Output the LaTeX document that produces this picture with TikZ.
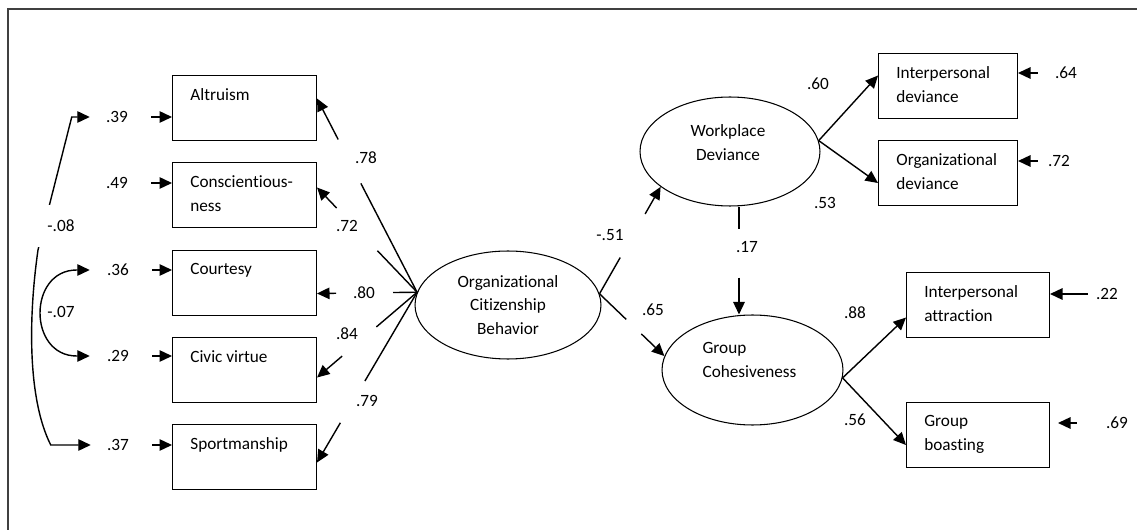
\documentclass[tikz,border=0pt]{standalone}
\usepackage{fontspec}
\setmainfont{Carlito}[Ligatures=NoCommon]
\usetikzlibrary{arrows.meta,shapes.geometric,positioning}

\begin{document}
\begin{tikzpicture}[x=0.02cm, y=-0.02cm,
    font={\fontsize{9.8pt}{13.6pt}\selectfont},
    >={Triangle[length=2.5mm,width=2.3mm]},
    box/.style={draw, line width=0.6pt, anchor=north west, minimum width=2.88cm, minimum height=1.3cm, inner sep=0pt},
    boxtext/.style={anchor=north west, inner sep=0pt, align=left, xshift=0.36cm, yshift=-0.26cm},
    latent/.style={draw, ellipse, line width=0.6pt, inner sep=0pt},
    num/.style={inner sep=0pt},
    link/.style={line width=0.8pt},
    arr/.style={->, line width=0.8pt}]
    \useasboundingbox (0,0) rectangle (1137,530);
    \draw[line width=1pt, black!75] (8,545) |- (1150,9);

    % observed OCB dimensions
    \node[box, label={[boxtext]north west:Altruism}] (altruism) at (172,75) {};
    \node[box, label={[boxtext]north west:{Conscientious-\\ness}}] (consc) at (172,162) {};
    \node[box, label={[boxtext]north west:Courtesy}] (courtesy) at (172,250) {};
    \node[box, label={[boxtext]north west:Civic virtue}] (civic) at (172,337) {};
    \node[box, label={[boxtext]north west:Sportmanship}] (sport) at (172,424) {};

    % observed outcome indicators
    \node[box, minimum width=2.78cm, label={[boxtext]north west:{Interpersonal\\deviance}}] (intdev) at (878,53) {};
    \node[box, minimum width=2.78cm, label={[boxtext]north west:{Organizational\\deviance}}] (orgdev) at (878,140) {};
    \node[box, minimum width=2.86cm, label={[boxtext]north west:{Interpersonal\\attraction}}] (intattr) at (906,272) {};
    \node[box, minimum width=2.86cm, label={[boxtext]north west:{Group\\boasting}}] (boast) at (906,402) {};

    % latent variables
    \node[latent, minimum width=3.72cm, minimum height=2.16cm, align=center] (ocb) at (508,305) {Organizational\\Citizenship\\Behavior};
    \node[latent, minimum width=3.6cm, minimum height=2.18cm,
        label={[align=center, xshift=-0.04cm, yshift=0.17cm]center:{Workplace\\Deviance}}] (wd) at (730,151.5) {};
    \node[latent, minimum width=3.62cm, minimum height=2.2cm,
        label={[align=left, xshift=-0.06cm, yshift=0.2cm]center:{Group\\Cohesiveness}}] (gc) at (752.5,370) {};

    \coordinate (cl) at (ocb.172);
    \coordinate (cr) at (ocb.7);

    % loadings of OCB, broken where the values sit
    \draw[link, shorten >=1.91cm] (cl) -- ([yshift=0.19cm]altruism.east);
    \draw[arr, shorten <=3.44cm] (cl) -- ([yshift=0.19cm]altruism.east);
    \draw[link, shorten >=1.75cm] (cl) -- ([yshift=0.15cm]consc.east);
    \draw[arr, shorten <=2.33cm] (cl) -- ([yshift=0.15cm]consc.east);
    \draw[link, shorten >=1.52cm] (cl) -- ([yshift=-0.21cm]courtesy.east);
    \draw[arr, shorten <=1.62cm] (cl) -- ([yshift=-0.21cm]courtesy.east);
    \draw[link, shorten >=1.56cm] (cl) -- ([yshift=-0.15cm]civic.east);
    \draw[arr, shorten <=1.97cm] (cl) -- ([yshift=-0.15cm]civic.east);
    \draw[link, shorten >=1.89cm] (cl) -- ([yshift=-0.11cm]sport.east);
    \draw[arr, shorten <=3.03cm] (cl) -- ([yshift=-0.11cm]sport.east);

    \node[num] (l78) at (366,158) {.78};
    \node[num] (l72) at (347,226) {.72};
    \node[num] (l80) at (364,293) {.80};
    \node[num] (l84) at (347,334) {.84};
    \node[num] (l79) at (367,401) {.79};

    % error terms, left
    \node[num] (e39) at (117,117) {.39};
    \node[num] (e49) at (117,183) {.49};
    \node[num] (e36) at (118,270) {.36};
    \node[num] (e29) at (118,356) {.29};
    \node[num] (e37) at (118,445) {.37};
    \draw[arr] ([xshift=0.46cm]e39.east) -- (e39 -| altruism.west);
    \draw[arr] ([xshift=0.46cm]e49.east) -- (e49 -| consc.west);
    \draw[arr] ([xshift=0.46cm]e36.east) -- (e36 -| courtesy.west);
    \draw[arr] ([xshift=0.46cm]e29.east) -- (e29 -| civic.west);
    \draw[arr] ([xshift=0.46cm]e37.east) -- (e37 -| sport.west);

    % correlated errors
    \draw[link, <->] ([xshift=-0.32cm]e39.west) -- ++(-18,0) -- (38,250)
        .. controls (28,320) and (28,400) .. ([xshift=-1.12cm]e37.west) -- ([xshift=-0.32cm]e37.west);
    \node[num, fill=white, minimum width=1cm, minimum height=0.84cm] (c08) at (61,226) {-.08};
    \draw[link, <->] ([xshift=-0.34cm]e36.west) -- ++(-13,0)
        .. controls +(-49,0) and +(-49,0) .. ([xshift=-0.6cm]e29.west) -- ([xshift=-0.34cm]e29.west);
    \node[num] (c07) at (61,312) {-.07};

    % structural paths
    \draw[link, shorten >=1.63cm] (cr) -- (wd.207);
    \draw[arr, shorten <=1.84cm] (cr) -- (wd.207);
    \draw[link, shorten >=1.06cm] (cr) -- (gc.171);
    \draw[arr, shorten <=1.16cm] (cr) -- (gc.171);
    \draw[link, shorten >=1.7cm] ([xshift=0.18cm]wd.south) -- ([xshift=0.18cm]wd.south |- gc.north);
    \draw[arr, shorten <=1.42cm] ([xshift=0.18cm]wd.south) -- ([xshift=0.18cm]wd.south |- gc.north);
    \node[num] (p51) at (610,235) {-.51};
    \node[num] (p65) at (653,310) {.65};
    \node[num] (p17) at (747,247) {.17};

    % outcome loadings
    \draw[arr] (wd.7) -- ([yshift=0.21cm]intdev.west);
    \draw[arr] (wd.7) -- ([yshift=-0.2cm]orgdev.west);
    \draw[arr] (gc.-5) -- ([yshift=-0.25cm]intattr.west);
    \draw[arr] (gc.-5) -- ([yshift=-0.2cm]boast.west);
    \node[num] (l60) at (818,84) {.60};
    \node[num] (l53) at (825,203) {.53};
    \node[num] (l88) at (855,313) {.88};
    \node[num] (l56) at (855,420) {.56};

    % error terms, right
    \node[num] (e64) at (1066,73) {.64};
    \node[num] (e72) at (1059,161) {.72};
    \node[num] (e22) at (1107,294) {.22};
    \node[num] (e69) at (1117,423) {.69};
    \draw[arr] ([xshift=-0.34cm]e64.west) -- (intdev.east |- e64);
    \draw[arr] ([xshift=-0.2cm]e72.west) -- (orgdev.east |- e72);
    \draw[arr] ([xshift=-0.16cm]e22.west) -- (intattr.east |- e22);
    \draw[arr, shorten >=0.16cm] ([xshift=-0.58cm]e69.west) -- (boast.east |- e69);
\end{tikzpicture}
\end{document}
